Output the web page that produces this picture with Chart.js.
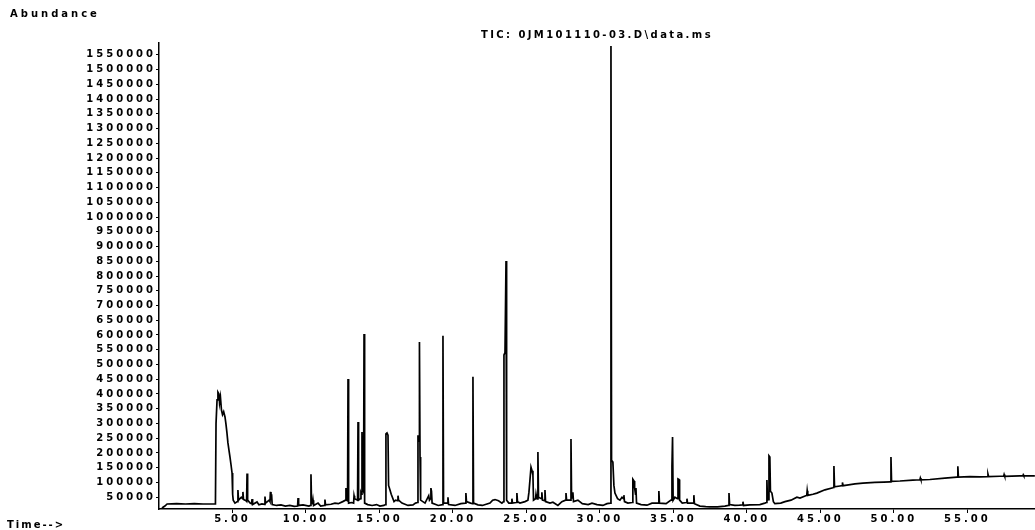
<!DOCTYPE html>
<html>
<head>
<meta charset="utf-8">
<script src="https://cdn.jsdelivr.net/npm/chart.js@4/dist/chart.umd.min.js"></script>
<style>
  html, body { margin: 0; padding: 0; background: #fff; }
  canvas { display: block; }
</style>
</head>
<body>
<canvas id="tic" width="1035" height="530"></canvas>
<script>
// Total ion chromatogram: retention time (min) vs. abundance (counts)
const retentionTimes = [
  0.20, 0.40, 0.55, 1.20, 1.80, 2.40, 3.00, 3.84, 3.88, 3.95,
  4.01, 4.08, 4.12, 4.18, 4.25, 4.32, 4.40, 4.49, 4.55, 4.62,
  4.69, 4.76, 4.83, 4.90, 4.97, 5.01, 5.05, 5.17, 5.33, 5.37,
  5.41, 5.60, 5.68, 5.71, 5.75, 5.92, 5.96, 5.99, 6.03, 6.20,
  6.30, 6.33, 6.37, 6.67, 6.80, 7.00, 7.18, 7.21, 7.25, 7.50,
  7.55, 7.58, 7.62, 7.66, 7.70, 8.00, 8.30, 8.60, 8.90, 9.20,
  9.43, 9.46, 9.50, 9.80, 10.20, 10.31, 10.34, 10.38, 10.45, 10.48,
  10.52, 10.82, 11.00, 11.26, 11.29, 11.33, 11.70, 11.97, 12.20, 12.50,
  12.69, 12.72, 12.76, 12.83, 12.86, 12.90, 13.10, 13.24, 13.27, 13.31,
  13.51, 13.54, 13.58, 13.72, 13.74, 13.78, 13.81, 13.86, 13.92, 13.95,
  13.99, 14.20, 14.50, 14.80, 15.03, 15.30, 15.41, 15.44, 15.51, 15.58,
  15.62, 15.71, 15.80, 15.99, 16.10, 16.23, 16.26, 16.30, 16.53, 16.94,
  17.28, 17.45, 17.59, 17.62, 17.69, 17.72, 17.76, 17.80, 18.10, 18.35,
  18.40, 18.47, 18.50, 18.54, 18.58, 19.00, 19.29, 19.32, 19.36, 19.62,
  19.66, 19.70, 20.14, 20.54, 20.85, 20.88, 20.92, 21.20, 21.33, 21.36,
  21.40, 21.70, 22.00, 22.52, 22.70, 22.86, 23.10, 23.33, 23.44, 23.47,
  23.54, 23.61, 23.65, 23.80, 23.98, 24.01, 24.05, 24.32, 24.35, 24.39,
  24.56, 24.90, 25.10, 25.17, 25.31, 25.38, 25.44, 25.48, 25.62, 25.65,
  25.70, 25.75, 25.78, 25.82, 26.02, 26.05, 26.09, 26.23, 26.26, 26.30,
  26.60, 26.80, 27.14, 27.41, 27.66, 27.69, 27.73, 28.00, 28.03, 28.07,
  28.13, 28.16, 28.20, 28.50, 28.80, 29.20, 29.46, 29.80, 30.20, 30.48,
  30.71, 30.75, 30.79, 30.88, 30.95, 31.02, 31.20, 31.36, 31.50, 31.60,
  31.63, 31.67, 31.90, 32.20, 32.24, 32.32, 32.36, 32.42, 32.45, 32.49,
  32.80, 33.20, 33.54, 33.97, 34.01, 34.05, 34.50, 34.83, 34.87, 34.90,
  34.94, 34.98, 35.10, 35.27, 35.31, 35.38, 35.42, 35.60, 35.89, 35.92,
  35.96, 36.36, 36.39, 36.43, 36.80, 37.20, 37.48, 38.00, 38.50, 38.75,
  38.78, 38.82, 39.18, 39.50, 39.70, 39.73, 39.77, 40.20, 40.88, 41.22,
  41.33, 41.36, 41.40, 41.47, 41.50, 41.56, 41.60, 41.70, 41.80, 41.90,
  42.30, 42.59, 43.00, 43.40, 43.61, 44.00, 44.07, 44.10, 44.14, 44.49,
  44.76, 45.31, 45.85, 45.89, 45.92, 45.96, 46.33, 46.47, 46.50, 46.54,
  46.80, 47.35, 47.89, 48.71, 49.30, 49.73, 49.77, 49.80, 49.84, 50.41,
  51.29, 51.77, 51.80, 51.84, 52.45, 53.47, 54.29, 54.32, 54.35, 54.39,
  55.17, 55.85, 56.37, 56.40, 56.44, 57.21, 57.47, 57.50, 57.54, 58.57,
  58.77, 58.80, 58.84, 59.59
];

const abundances = [
  13400, 20000, 27000, 28500, 27000, 28000, 27000, 27000, 300000, 380000,
  406000, 400000, 370000, 390000, 345000, 330000, 340000, 322000, 300000, 270000,
  234000, 210000, 186000, 160000, 132000, 60000, 40000, 30000, 35000, 74000,
  40000, 50000, 45000, 68000, 42000, 38000, 36000, 130000, 40000, 30000,
  28000, 44000, 25000, 34000, 24000, 27000, 26000, 52000, 30000, 40000,
  35000, 68000, 40000, 60000, 25000, 22000, 24000, 20000, 22000, 19000,
  20000, 47000, 22000, 24000, 20000, 22000, 128000, 30000, 28000, 40000,
  22000, 30000, 20000, 22000, 42000, 24000, 26000, 30000, 28000, 35000,
  40000, 81000, 40000, 38000, 451000, 30000, 32000, 30000, 55000, 45000,
  40000, 305000, 40000, 45000, 65000, 60000, 271000, 80000, 70000, 603000,
  30000, 25000, 22000, 25000, 20000, 22000, 25000, 265000, 268000, 260000,
  90000, 75000, 60000, 35000, 40000, 38000, 55000, 40000, 30000, 22000,
  24000, 30000, 32000, 260000, 240000, 576000, 186000, 40000, 30000, 55000,
  40000, 45000, 81000, 70000, 30000, 22000, 25000, 597000, 30000, 30000,
  50000, 25000, 22000, 28000, 30000, 64000, 35000, 30000, 28000, 458000,
  30000, 24000, 22000, 30000, 40000, 42000, 38000, 30000, 35000, 532000,
  540000, 851000, 40000, 30000, 30000, 45000, 30000, 32000, 64000, 35000,
  30000, 35000, 40000, 67000, 152000, 140000, 125000, 40000, 45000, 60000,
  45000, 44000, 203000, 50000, 45000, 67000, 40000, 38000, 74000, 35000,
  30000, 33000, 22000, 35000, 40000, 64000, 40000, 40000, 247000, 50000,
  48000, 67000, 35000, 40000, 28000, 25000, 30000, 25000, 22000, 28000,
  30000, 1580000, 175000, 169000, 90000, 64000, 45000, 40000, 50000, 45000,
  57000, 35000, 30000, 32000, 111000, 105000, 81000, 60000, 81000, 30000,
  25000, 23000, 30000, 30000, 71000, 30000, 28000, 40000, 40000, 155000,
  254000, 40000, 50000, 45000, 112000, 110000, 40000, 30000, 32000, 45000,
  30000, 30000, 57000, 28000, 20000, 18000, 17000, 17000, 20000, 22000,
  64000, 25000, 22000, 23000, 24000, 35000, 22000, 24000, 25000, 30000,
  32000, 108000, 40000, 42000, 190000, 186000, 70000, 64000, 35000, 28000,
  30000, 35000, 40000, 50000, 47000, 55000, 56000, 72000, 56000, 60000,
  64000, 75000, 82000, 83000, 156000, 85000, 88000, 89000, 100000, 89000,
  91000, 95000, 98000, 100000, 101000, 102000, 102000, 186000, 104000, 105000,
  108000, 109000, 115000, 109000, 110000, 115000, 118000, 118000, 155000, 118000,
  120000, 119000, 120000, 128000, 120000, 121000, 121000, 127000, 121000, 122000,
  122000, 126000, 122000, 122000
];

const timeTicks = [5, 10, 15, 20, 25, 30, 35, 40, 45, 50, 55];

const abundanceTicks = [
  50000, 100000, 150000, 200000, 250000, 300000, 350000, 400000,
  450000, 500000, 550000, 600000, 650000, 700000, 750000, 800000,
  850000, 900000, 950000, 1000000, 1050000, 1100000, 1150000, 1200000,
  1250000, 1300000, 1350000, 1400000, 1450000, 1500000, 1550000
];

const chartTitle = 'TIC: 0JM101110-03.D\\data.ms';
const yAxisLabel = 'Abundance';
const xAxisLabel = 'Time-->';

const points = retentionTimes.map((t, i) => ({ x: t, y: abundances[i] }));

const FONT_FAMILY = '"DejaVu Sans", sans-serif';
const FONT_SIZE = 10;

// Wide, spaced-out lettering plus the free-standing labels around the plot
const labelPlugin = {
  id: 'ticLabels',
  beforeDraw(chart) {
    chart.ctx.letterSpacing = '3px';
  },
  afterDraw(chart) {
    const ctx = chart.ctx;
    const area = chart.chartArea;
    ctx.save();
    ctx.font = 'bold ' + FONT_SIZE + 'px ' + FONT_FAMILY;
    ctx.fillStyle = '#000';
    ctx.textBaseline = 'middle';
    ctx.textAlign = 'left';
    ctx.letterSpacing = '3px';
    ctx.fillText(yAxisLabel, 10, 14);
    ctx.letterSpacing = '2px';
    ctx.fillText(xAxisLabel, 7, 525);
    ctx.letterSpacing = '2.4px';
    ctx.textAlign = 'center';
    ctx.fillText(chartTitle, (area.left + area.right) / 2, 35);
    ctx.restore();
  }
};

new Chart(document.getElementById('tic'), {
  type: 'line',
  data: {
    datasets: [{
      data: points,
      borderColor: '#000',
      borderWidth: 1.7,
      pointRadius: 0,
      tension: 0,
      fill: false
    }]
  },
  options: {
    responsive: false,
    devicePixelRatio: 1,
    animation: false,
    events: [],
    layout: { padding: { top: 43, left: 0, right: 0, bottom: 0 } },
    plugins: {
      legend: { display: false },
      tooltip: { enabled: false },
      title: { display: false }
    },
    scales: {
      x: {
        type: 'linear',
        min: 0,
        max: 59.6,
        afterBuildTicks: s => { s.ticks = timeTicks.map(v => ({ value: v })); },
        afterFit: s => { s.height = 21; },
        border: { display: true, color: '#000', width: 1.5 },
        grid: { drawOnChartArea: false, drawTicks: true, tickLength: 4, color: '#000' },
        ticks: {
          color: '#000',
          padding: 0,
          maxRotation: 0,
          autoSkip: false,
          font: { family: FONT_FAMILY, size: FONT_SIZE, weight: 'bold' },
          callback: v => Number(v).toFixed(2)
        }
      },
      y: {
        type: 'linear',
        min: 10000,
        max: 1590000,
        afterBuildTicks: s => { s.ticks = abundanceTicks.map(v => ({ value: v })); },
        afterFit: s => { s.width = 159; },
        border: { display: true, color: '#000', width: 1.5 },
        grid: { drawOnChartArea: false, drawTicks: true, tickLength: 3, color: '#000' },
        ticks: {
          color: '#000',
          padding: 0,
          autoSkip: false,
          font: { family: FONT_FAMILY, size: FONT_SIZE, weight: 'bold' },
          callback: v => String(v)
        }
      }
    }
  },
  plugins: [labelPlugin]
});
</script>
</body>
</html>
